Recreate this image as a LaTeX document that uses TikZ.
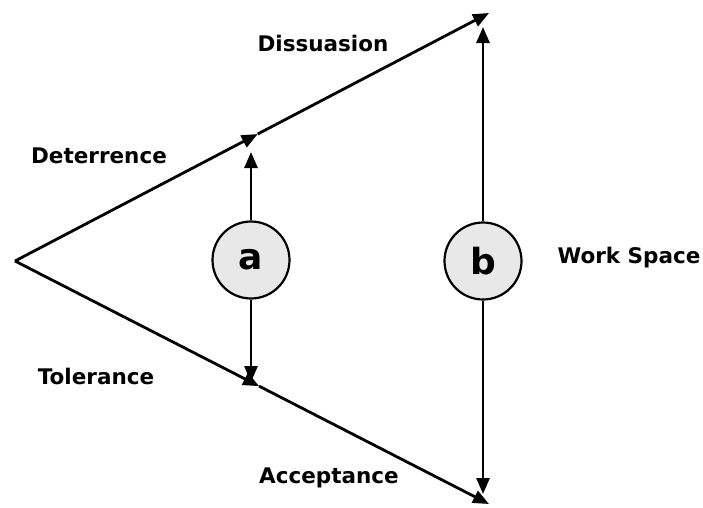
\documentclass[tikz,border=0pt]{standalone}
\usepackage{fontspec}
\setmainfont{DejaVu Sans}
\usepackage{tikz}
\usetikzlibrary{calc,arrows.meta,positioning}
\tikzset{
zone/.style={font=\bfseries\fontsize{21.5}{24}\selectfont, inner sep=0pt}, % region labels
marker/.style={circle, draw, line width=2.2pt, fill=gray!18, minimum size=77pt, inner sep=0pt, font=\bfseries\fontsize{36}{40}\selectfont},
bound/.style={line width=2.8pt, -{Triangle[length=16pt,width=13pt]}},
span/.style={line width=2.8pt, -{Triangle[length=16pt,width=13pt]}},
}

\begin{document}
\begin{tikzpicture}[x=1pt,y=-1pt]
   \useasboundingbox (0,0) rectangle (703,507);
   % the two boundary lines
   \coordinate (apex) at (15,261);
   \coordinate (dend) at (489,13);
   \coordinate (tend) at (489,504);
   \coordinate (dmid) at ($(apex)!0.512!(dend)$);
   \coordinate (tmid) at ($(apex)!0.515!(tend)$);
   \draw[bound] (apex) -- (dmid);
   \draw[bound] (dmid) -- (dend);
   \draw[bound] (apex) -- (tmid);
   \draw[bound] (tmid) -- (tend);
   % circles
   \node[marker] (a) at (251,260) {a};
   \node[marker] (b) at (483,261) {b};
   \coordinate (atop) at (251,152);
   \coordinate (abot) at (251,382);
   \coordinate (btop) at (483,27);
   \coordinate (bbot) at (483,494);
   \draw[span] (a) -- (atop);
   \draw[span] (a) -- (abot);
   \draw[span] (b) -- (btop);
   \draw[span] (b) -- (bbot);
   % labels
   \node[zone] (diss) at (323,43) {Dissuasion};
   \node[zone] (dete) at (99,156) {Deterrence};
   \node[zone] (tole) at (96,376) {Tolerance};
   \node[zone] (acce) at (329,478) {Acceptance};
   \node[zone] (work) at (629,258) {Work Space};
\end{tikzpicture}
\end{document}
